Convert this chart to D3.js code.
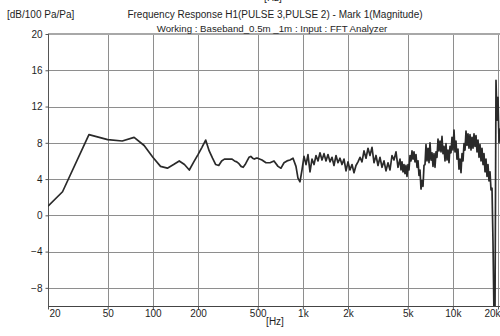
<!DOCTYPE html>
<html><head><meta charset="utf-8">
<script src="https://cdn.jsdelivr.net/npm/d3@7/dist/d3.min.js"></script>
<style>
body{margin:0;background:#fff}
svg{display:block;font-family:"Liberation Sans",Arial,sans-serif}
</style>
</head><body>
<svg id="chart" width="500" height="336"></svg>
<script>
// Frequency response magnitude, dB re 100 Pa/Pa
// Low band: FFT bins (12.5 Hz spacing) up to 500 Hz
const lowFreqs = [20, 25, 37.5, 50, 62.5, 75, 87.5, 100, 112.5, 125, 137.5, 150, 162.5, 175, 187.5,
  200, 212.5, 225, 237.5, 250, 262.5, 275, 287.5, 300, 312.5, 325, 337.5, 350, 362.5, 375, 387.5,
  400, 412.5, 425, 437.5, 450, 462.5, 475, 487.5, 500];
const lowLevels = [1.0, 2.6, 8.9, 8.35, 8.2, 8.6, 7.7, 6.4, 5.4, 5.2, 5.6, 6.0, 5.6, 5.0, 5.9,
  6.7, 7.5, 8.3, 7.1, 6.3, 5.6, 5.5, 6.0, 6.2, 6.2, 6.2, 6.2, 6.0, 5.9, 5.7, 5.4,
  5.3, 5.6, 6.0, 6.4, 6.5, 6.3, 6.2, 6.3, 6.3];

// Mid band: 500 Hz - 1 kHz
const midFreqs = [534, 568, 604, 642, 683, 715, 749, 784, 821, 860, 900, 928, 957];
const midLevels = [6.1, 5.8, 5.8, 6.0, 5.4, 5.2, 5.8, 6.0, 6.1, 6.3, 5.4, 4.1, 3.7];

// Upper band: 1 kHz - 4.4 kHz
const upperFreqs = [987, 1018, 1050, 1082, 1116, 1151, 1187, 1224, 1262, 1301, 1342, 1384, 1427, 1471,
  1517, 1564, 1613, 1664, 1715, 1769, 1824, 1881, 1940, 2000, 2062, 2127, 2193, 2261, 2332, 2405,
  2479, 2557, 2637, 2719, 2803, 2891, 2981, 3074, 3170, 3269, 3371, 3476, 3584, 3696, 3811, 3930,
  4052, 4178, 4309];
const upperLevels = [5.0, 6.5, 5.6, 6.7, 4.8, 6.2, 5.6, 6.6, 6.0, 6.9, 6.1, 6.8, 6.0, 6.7,
  5.9, 6.4, 5.5, 6.6, 5.8, 6.3, 5.6, 6.2, 4.9, 5.9, 5.0, 5.6, 4.7, 5.5, 5.9, 6.4,
  5.9, 7.1, 6.3, 7.4, 6.6, 7.5, 5.8, 6.6, 5.5, 6.4, 5.3, 6.0, 4.9, 5.8, 5.0, 6.6,
  6.1, 7.0, 5.3];

// Top band: 4.4 kHz - 21 kHz (dense bins)
const topFreqs = [4443, 4512, 4582, 4653, 4725, 4798, 4872, 4947, 5024, 5102, 5181, 5261, 5342, 5425,
  5509, 5594, 5681, 5769, 5858, 5949, 6040, 6133, 6229, 6325, 6423, 6522, 6623, 6725, 6830, 6936,
  7043, 7152, 7262, 7374, 7489, 7605, 7723, 7842, 7962, 8085, 8211, 8338, 8467, 8598, 8730, 8865,
  9002, 9141, 9283, 9427, 9572, 9720, 9870, 10023, 10179, 10336, 10496, 10658, 10823, 10990, 11161,
  11334, 11509, 11687, 11868, 12052, 12238, 12427, 12619, 12814, 13013, 13214, 13418, 13626, 13837,
  14051, 14268, 14489, 14714, 14942, 15172, 15407, 15645, 15887, 16133, 16383, 16636, 16893, 17154,
  17419, 17689, 17963, 18241, 18524, 18809, 19100, 19395, 19695, 20000, 20309, 20624, 21267];
const topLevels = [6.2, 5.0, 5.9, 4.8, 5.6, 4.6, 5.5, 4.3, 5.6, 5.0, 6.6, 6.0, 7.1, 6.2,
  7.0, 5.9, 6.7, 5.3, 6.0, 4.4, 5.0, 2.9, 3.8, 3.2, 5.5, 5.6, 7.8, 6.0, 7.4, 5.8,
  8.0, 6.1, 6.9, 5.4, 6.8, 5.3, 7.0, 6.4, 8.4, 7.1, 8.2, 7.0, 8.7, 6.8, 7.6, 6.0,
  7.9, 6.1, 7.2, 5.8, 7.6, 6.9, 8.6, 7.2, 9.4, 7.0, 8.2, 6.2, 7.3, 5.1, 6.2,
  4.7, 6.8, 6.0, 7.9, 7.2, 9.3, 7.7, 9.0, 7.4, 8.9, 7.2, 8.6, 7.4, 9.0,
  7.6, 8.8, 7.0, 8.3, 6.4, 7.8, 6.0, 7.4, 5.6, 6.8, 4.8, 6.2, 4.3, 5.6,
  3.8, 4.8, 2.8, 3.0, -3, -11, -11, 14.9, 10.5, 13, 8, 9.5, 7.5];

const yTicks = [-8, -4, 0, 4, 8, 12, 16, 20];
const xTicks = [20, 50, 100, 200, 500, 1000, 2000, 5000, 10000, 20000];
const xTickLabels = ["20", "50", "100", "200", "500", "1k", "2k", "5k", "10k", "20k"];

const yUnit = "[dB/100 Pa/Pa]";
const xUnit = "[Hz]";
const titleLines = [
  "Frequency Response H1(PULSE 3,PULSE 2) - Mark 1(Magnitude)",
  "Working : Baseband_0.5m _1m : Input : FFT Analyzer"
];

const series = [];
[[lowFreqs, lowLevels], [midFreqs, midLevels], [upperFreqs, upperLevels], [topFreqs, topLevels]]
  .forEach(([f, v]) => f.forEach((fr, i) => series.push([fr, v[i]])));

const svg = d3.select("#chart");
const plotLeft = 48, plotTop = 34, plotBottom = 306, plotRight = 498;
const x = d3.scaleLog().domain([20, 20000]).range([plotLeft, plotRight]);
const y = d3.scaleLinear().domain([-10, 20]).range([plotBottom, plotTop]);

const gridColor = "#8e8e8e";
const textColor = "#1e1e1e";
const fontFamily = '"Liberation Sans",Arial,sans-serif';

// horizontal grid
svg.append("g").selectAll("line").data(yTicks.filter(d => d !== 20)).join("line")
  .attr("x1", plotLeft).attr("x2", 500)
  .attr("y1", d => Math.round(y(d)) + 0.5).attr("y2", d => Math.round(y(d)) + 0.5)
  .attr("stroke", gridColor).attr("stroke-width", 1);

// vertical grid
svg.append("g").selectAll("line").data(xTicks.slice(1)).join("line")
  .attr("x1", d => Math.round(x(d)) + 0.5).attr("x2", d => Math.round(x(d)) + 0.5)
  .attr("y1", plotTop).attr("y2", plotBottom)
  .attr("stroke", gridColor).attr("stroke-width", 1);

// top border
svg.append("line").attr("x1", plotLeft).attr("x2", 500).attr("y1", plotTop).attr("y2", plotTop)
  .attr("stroke", "#a8a8a8").attr("stroke-width", 2);

// axes
const yAxis = d3.axisLeft(y).tickValues(yTicks).tickSize(3).tickPadding(3).tickFormat(d3.format("d"));
const gy = svg.append("g").attr("transform", `translate(${plotLeft + 0.5},0)`).call(yAxis);
gy.select(".domain").attr("stroke", "#555").attr("d", `M0,${plotTop}V${plotBottom}`);
gy.selectAll(".tick line").attr("stroke", "#555");
gy.selectAll("text").attr("font-size", 10).attr("fill", textColor).attr("font-family", fontFamily);

const xAxis = d3.axisBottom(x).tickValues(xTicks).tickSize(3).tickPadding(0)
  .tickFormat((d, i) => xTickLabels[i]);
const gx = svg.append("g").attr("transform", `translate(0,${plotBottom + 0.5})`).call(xAxis);
gx.select(".domain").attr("stroke", "#444").attr("d", `M${plotLeft},0H500`);
gx.selectAll(".tick line").attr("stroke", "#555");
gx.selectAll("text").attr("font-size", 10).attr("fill", textColor).attr("font-family", fontFamily);
gx.selectAll("text").filter((d, i) => i === 0).attr("text-anchor", "start").attr("dx", 1);
gx.selectAll("text").filter((d, i) => i === xTicks.length - 1).attr("text-anchor", "end").attr("dx", 2);

// clip to plot area
svg.append("clipPath").attr("id", "plotClip").append("rect")
  .attr("x", plotLeft).attr("y", plotTop).attr("width", 500 - plotLeft).attr("height", plotBottom - plotTop);

const line = d3.line().x(d => x(d[0])).y(d => y(d[1]));
svg.append("path").datum(series)
  .attr("clip-path", "url(#plotClip)")
  .attr("fill", "none").attr("stroke", "#2a2a2a").attr("stroke-width", 1.7)
  .attr("stroke-linejoin", "round").attr("d", line);

// texts
const label = (tx, ty, s, anchor, size) => svg.append("text").attr("x", tx).attr("y", ty)
  .attr("font-size", size || 10).attr("fill", textColor).attr("text-anchor", anchor || "start").text(s);
label(7, 17.5, yUnit);
label(275, 18, titleLines[0], "middle");
label(272, 32, titleLines[1], "middle", 9.7);
label(275, 325, xUnit, "middle");
label(273, 1, xUnit, "middle");
</script>
</body></html>
